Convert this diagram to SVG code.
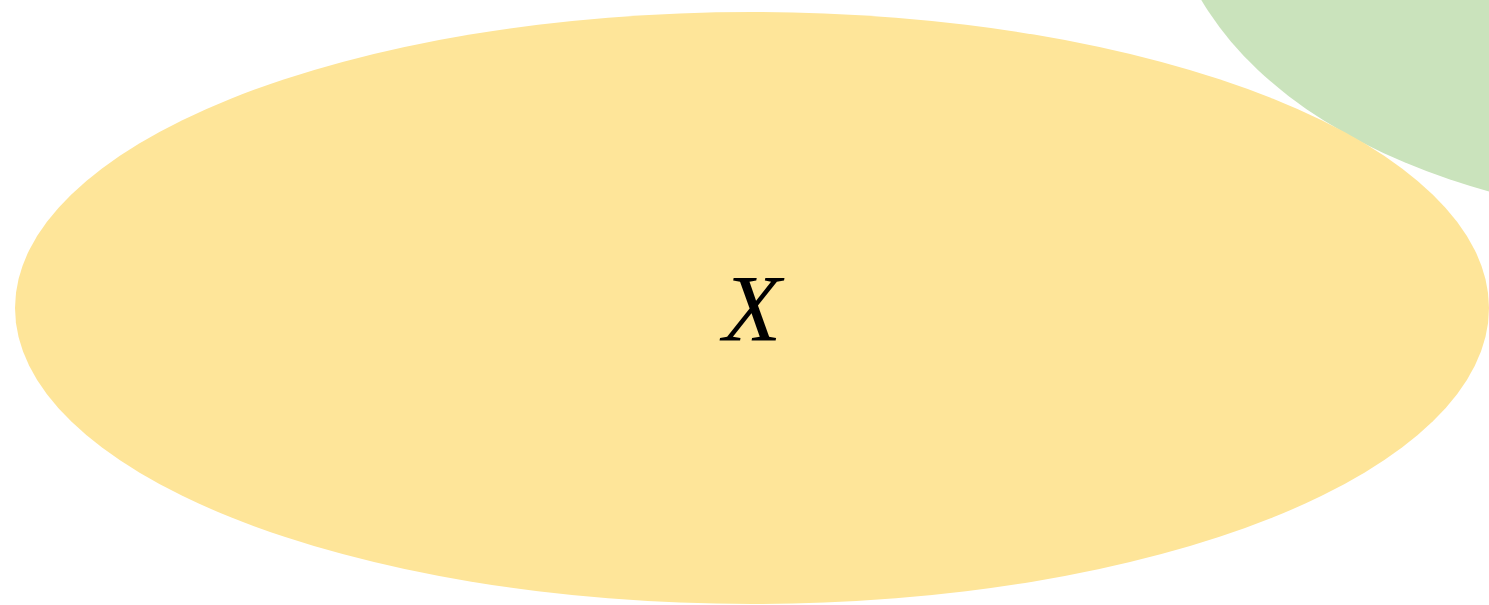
<svg xmlns="http://www.w3.org/2000/svg" width="1489" height="605" viewBox="0 0 1489 605">
<style>
.lbl{font-family:"Liberation Serif","Times New Roman",serif;font-style:italic;font-size:96px;fill:#000;}
</style>
<rect width="1489" height="605" fill="#ffffff"/>
<g id="node-green">
<ellipse cx="1700" cy="-117" rx="532" ry="336" fill="#cae3bc"/>
</g>
<g id="node-x">
<ellipse cx="752" cy="308" rx="737" ry="296" fill="#fee599"/>
<text class="lbl" x="752" y="341" text-anchor="middle">X</text>
</g>
<g id="connectors"></g>
</svg>
